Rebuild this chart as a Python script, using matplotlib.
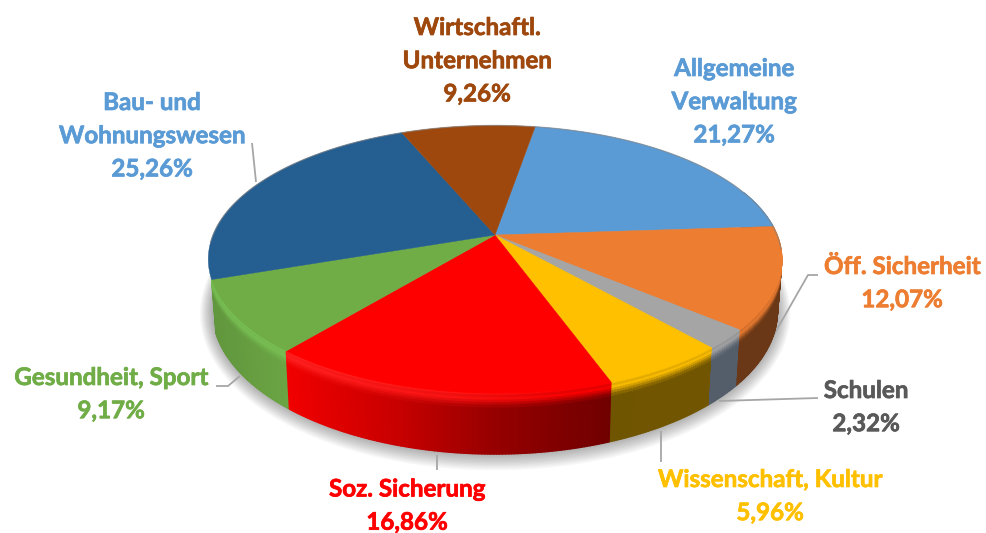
import numpy as np
import matplotlib
matplotlib.use("Agg")
import matplotlib.pyplot as plt
import matplotlib.patheffects as pe
from matplotlib.path import Path
from matplotlib.transforms import Transform
from matplotlib.collections import PolyCollection
from matplotlib.colors import to_rgb

categories = ["Allgemeine\nVerwaltung", "Öff. Sicherheit", "Schulen", "Wissenschaft, Kultur",
              "Soz. Sicherung", "Gesundheit, Sport", "Bau- und\nWohnungswesen", "Wirtschaftl.\nUnternehmen"]
values = [21.27, 12.07, 2.32, 5.96, 16.86, 9.17, 25.26, 9.26]
value_labels = ["21,27%", "12,07%", "2,32%", "5,96%", "16,86%", "9,17%", "25,26%", "9,26%"]
slice_colors = ["#5B9BD5", "#ED7D31", "#A5A5A5", "#FFC000", "#FF0000", "#70AD47", "#255E91", "#9E480E"]
text_colors = ["#5B9BD5", "#ED7D31", "#595959", "#FFC000", "#FF0000", "#70AD47", "#5B9BD5", "#9E480E"]
label_x = [734, 902, 866, 770, 407, 111, 152, 477]
label_top = [67, 265, 389, 478, 487.5, 376, 101, 26]
leaders = [None,
           [(772, 338), (808, 275), (818, 275)],
           [(719, 401), (818, 398)],
           [(661, 431), (661, 462)],
           [(437, 455), (437, 470)],
           [(240, 376), (228, 386), (216, 386)],
           [(256, 182), (252, 143)],
           None]

CX, CY, A, B, K = 495.0, 235.0, 282.0, 129.4, 0.181
START = 79.5


class Persp(Transform):
    """Maps the flat unit pie onto the tilted disc seen in perspective."""
    input_dims = output_dims = 2
    has_inverse = False

    def transform_non_affine(self, xy):
        xy = np.asarray(xy, float)
        r = np.hypot(xy[:, 0], xy[:, 1])
        t = np.arctan2(xy[:, 1], xy[:, 0])
        t = t - np.radians(1.2 - 2.0 * np.sin(t) - 0.3 * np.cos(t))
        x, y = r * np.cos(t), r * np.sin(t)
        w = 1 + K * y
        return np.column_stack([CX + A * x / w, CY - B * y / w])

    def transform_path_non_affine(self, path):
        flat = Path(path.vertices * 2000, path.codes).cleaned(curves=False)
        keep = flat.codes != Path.STOP
        return Path(self.transform_non_affine(flat.vertices[keep] / 2000), flat.codes[keep])


persp = Persp()

fig = plt.figure(figsize=(9.86, 5.33), dpi=100, facecolor="white")
ax = fig.add_axes([0, 0, 1, 1])

wedges, _ = ax.pie(values, colors=slice_colors, startangle=START, counterclock=False, radius=1.0,
                   wedgeprops=dict(linewidth=0.3))
ax.set_aspect("auto")
ax.set_xlim(0, 986)
ax.set_ylim(533, 0)
ax.axis("off")


def rim(theta):
    t = np.radians(theta)
    return persp.transform_non_affine(np.column_stack([np.cos(t), np.sin(t)]))


def lower(theta):
    p = rim(theta)
    w = 1 + K * (CY - p[:, 1]) / B / (1 - K * (CY - p[:, 1]) / B)
    return np.column_stack([CX + (p[:, 0] - CX) * 0.985, p[:, 1] + 50 / w])


# soft shadow
th = np.linspace(0, 360, 361)
base = lower(th)
for grow in np.linspace(13, 1, 12):
    c = base.mean(axis=0)
    sh = c + (base - c) * (1 + grow / np.array([287, 135])) + np.array([0, grow * 0.1])
    ax.fill(sh[:, 0], sh[:, 1], color="black", alpha=0.028, lw=0, zorder=1)

# side wall
shade_x = [205, 285, 400, 500, 610, 800]
shade_f = [0.86, 0.95, 0.78, 0.58, 0.44, 0.45]
fr = np.array([0, 0.04, 0.08, 0.12, 0.16, 0.20, 0.25, 1.0])
mids = [1.0, 0.8, 0.95, 0.7, 0.42, 0.16, 0.0]  # weight of the light colour per band
polys, cols, order = [], [], []
for wdg, col in zip(wedges, slice_colors):
    if col == "#255E91":  # its wall is hidden behind the next slice in the reference
        continue
    rgb = np.array(to_rgb(col))
    lo, hi = min(wdg.theta1, wdg.theta2), max(wdg.theta1, wdg.theta2)
    ts = np.append(np.arange(lo, hi, 0.5), hi)
    for a, b in zip(ts[:-1], ts[1:]):
        if np.sin(np.radians((a + b) / 2)) > 0.35:
            continue
        pair = np.array([a, b])
        t0, l0 = rim(pair), lower(pair)
        xm = t0[:, 0].mean()
        f = np.interp(xm, shade_x, shade_f)
        wall = rgb * f
        if col == "#A5A5A5":
            wall = np.array([0.33, 0.37, 0.42])
        hl = np.interp(xm, [285, 450, 580], [1.0, 0.6, 0.0])
        boost = np.array([0.05, 0.13, 0.13]) if col == "#FF0000" else np.array([0.03, 0.07, 0.05])
        light = np.clip(rgb + boost * hl, 0, 1)
        for i in range(len(fr) - 1):
            c = light * mids[i] + wall * (1 - mids[i])
            q = [t0[0] + (l0[0] - t0[0]) * fr[i], t0[1] + (l0[1] - t0[1]) * fr[i],
                 t0[1] + (l0[1] - t0[1]) * fr[i + 1], t0[0] + (l0[0] - t0[0]) * fr[i + 1]]
            polys.append(q)
            cols.append(c)
            order.append(t0[:, 1].mean() + i * 0.01)
idx = np.argsort(order)
pc = PolyCollection([polys[i] for i in idx], facecolors=[cols[i] for i in idx],
                    edgecolors=[cols[i] for i in idx], linewidths=1.0, zorder=2)
ax.add_collection(pc)

# top face
for wdg, col in zip(wedges, slice_colors):
    wdg.set_transform(persp + ax.transData)
    wdg.set_clip_on(False)
    wdg.set_edgecolor(col)
    wdg.set_zorder(3)

# back rim line
tb = np.linspace(-5, 185, 300)
rb = rim(tb)
ax.plot(rb[:, 0], rb[:, 1], color="#808080", lw=0.9, alpha=0.6, zorder=4)

# leader lines
for pts in leaders:
    if pts:
        xs, ys = zip(*pts)
        ax.plot(xs, ys, color="#A6A6A6", lw=1.3, zorder=1.5, solid_capstyle="butt")

# labels
LINE = 33.2
for cat, val, col, x, top in zip(categories, value_labels, text_colors, label_x, label_top):
    for i, line in enumerate(cat.split("\n") + [val]):
        t = ax.text(x, top + 1.5 + i * LINE, line, color=col, ha="center", va="center",
                    fontsize=17.4, fontweight="bold", family="Lato", zorder=6)
        t.set_path_effects([pe.withStroke(linewidth=0.5, foreground=col)])

fig.savefig("out.png", dpi=100)
